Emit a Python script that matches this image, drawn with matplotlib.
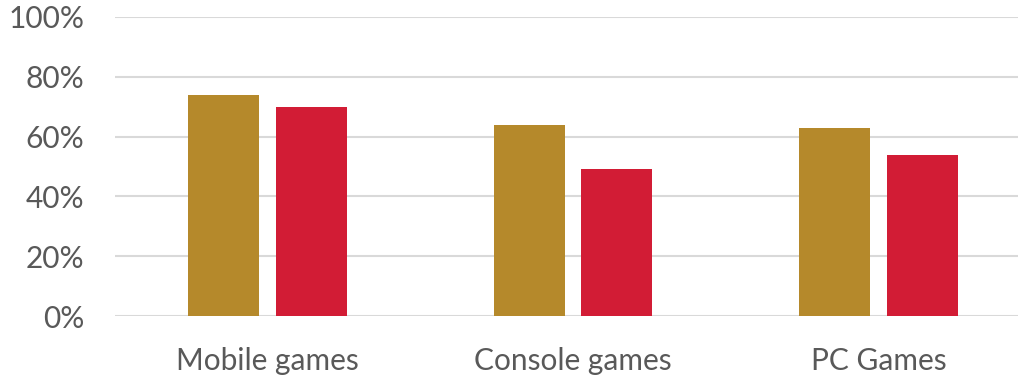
import numpy as np
import matplotlib.pyplot as plt
from matplotlib.ticker import PercentFormatter

plt.rcParams['font.family'] = ['Lato', 'DejaVu Sans']

categories = ['Mobile games', 'Console games', 'PC Games']
series_a = [74, 64, 63]
series_b = [70, 49, 54]

gold = '#B5892B'
red = '#D21C35'
text_col = '#595959'

fig = plt.figure(figsize=(10.18, 3.77), dpi=100)
ax = fig.add_axes([115/1018, 61/377, 916/1018, 299/377])

x = np.arange(len(categories))
w = 0.2326
off = 0.144
ax.bar(x - off, series_a, width=w, color=gold, zorder=3)
ax.bar(x + off, series_b, width=w, color=red, zorder=3)

ax.set_xlim(-0.5, 2.5)
ax.set_ylim(0, 100)
ax.set_yticks(np.arange(0, 101, 20))
ax.yaxis.set_major_formatter(PercentFormatter(decimals=0))
ax.set_xticks(x)
ax.set_xticklabels(categories)

ax.grid(axis='y', color='#D9D9D9', linewidth=1.5, zorder=0)
for s in ax.spines.values():
    s.set_visible(False)
ax.tick_params(axis='both', length=0, labelsize=21.5, labelcolor=text_col)
ax.tick_params(axis='y', pad=22)
ax.tick_params(axis='x', pad=22)

plt.savefig('out.png', dpi=100)
